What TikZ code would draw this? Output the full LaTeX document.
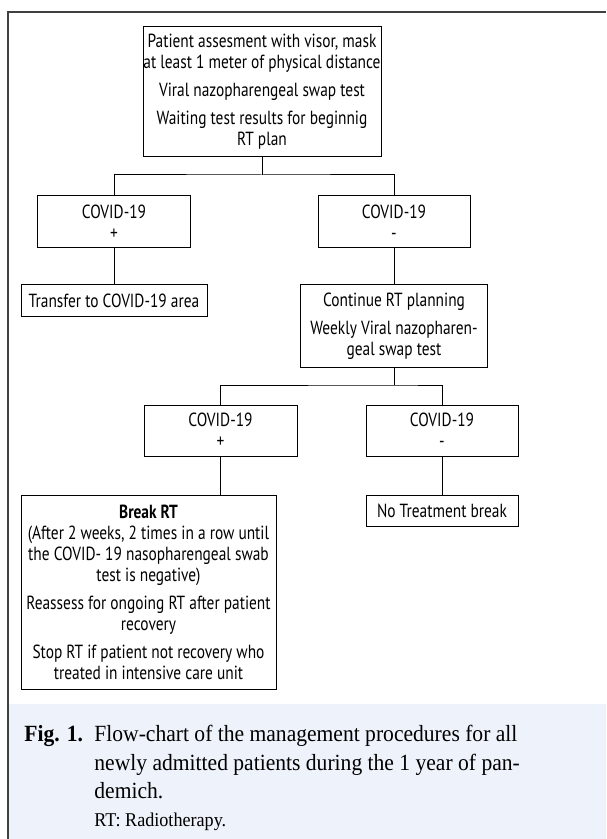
\documentclass[tikz,border=0pt]{standalone}
\usepackage{fontspec}
\setmainfont[FakeStretch=0.93]{Liberation Serif}
\setsansfont[FakeStretch=0.81]{PT Sans}
\definecolor{capbg}{RGB}{238,242,250}
\tikzset{box/.style = {shape=rectangle,draw,line width=0.5pt,align=center,inner sep=0pt,font=\sffamily\fontsize{9.5}{10.5}\selectfont}}
\tikzset{link/.style = {draw,line width=0.5pt}}

\begin{document}
\begin{tikzpicture}[x=0.5pt,y=-0.5pt]
		\useasboundingbox (0,0) rectangle (606,839);
		
		% frame and caption
		\fill[capbg] (9,704) rectangle (606,839);
		\draw[line width=1pt,black!75] (8,839) -- (8,12) -- (606,12);
		
		% boxes
		\node[box,minimum width=119pt,minimum height=65pt] (assess) at (262,92) {Patient assesment with visor, mask\\at least 1 meter of physical distance\\[3.5pt]Viral nazopharengeal swap test\\[3.5pt]Waiting test results for beginnig\\RT plan};
		\node[box,minimum width=76.5pt,minimum height=26pt] (pos) at (114,222) {COVID-19\\+};
		\node[box,minimum width=76pt,minimum height=26pt] (neg) at (394,222) {COVID-19\\-};
		\node[box,minimum width=93pt,minimum height=15.5pt] (transfer) at (114,300.5) {Transfer to COVID-19 area};
		\node[box,minimum width=93.5pt,minimum height=41pt] (cont) at (394,326) {Continue RT planning\\[3.5pt]Weekly Viral nazopharen-\\geal swap test};
		\node[box,minimum width=76.5pt,minimum height=25.5pt] (pos2) at (220.5,430.5) {COVID-19\\+};
		\node[box,minimum width=76pt,minimum height=25.5pt] (neg2) at (442,430.5) {COVID-19\\-};
		\node[box,minimum width=127.5pt,minimum height=97pt] (brk) at (148.5,592) {\textbf{Break RT}\\(After 2 weeks, 2 times in a row until\\the COVID- 19 nasopharengeal swab\\test is negative)\\[3.5pt]Reassess for ongoing RT after patient\\recovery\\[3.5pt]Stop RT if patient not recovery who\\treated in intensive care unit};
		\node[box,minimum width=76pt,minimum height=15.5pt] (notreat) at (442,510.5) {No Treatment break};
		
		% split points
		\coordinate (split1) at (262,175);
		\coordinate (split2) at (394,385);
		
		% links
		\draw[link] (assess) -- (split1);
		\draw[link] (pos.north) |- (split1) -| (neg.north);
		\draw[link] (pos) -- (transfer);
		\draw[link] (neg) -- (cont);
		\draw[link] (cont) -- (split2);
		\draw[link] (pos2.north) |- (split2) -| (neg2.north);
		\draw[link] (pos2.south) -- (pos2.south |- brk.north);
		\draw[link] (neg2) -- (notreat);
		
		% caption
		\node[anchor=base west,inner sep=0pt,font=\bfseries\fontsize{11.6}{14.5}\selectfont] (fig) at (24,741) {Fig. 1.};
		\node[anchor=north west,inner sep=0pt,align=left,font=\fontsize{11.6}{14.25}\selectfont] (captext) at (94,725) {Flow-chart of the management procedures for all\\newly admitted patients during the 1 year of pan-\\demich.};
		\node[anchor=base west,inner sep=0pt,font=\fontsize{9.75}{12}\selectfont] (note) at (94,826) {RT: Radiotherapy.};
	\end{tikzpicture}
\end{document}
